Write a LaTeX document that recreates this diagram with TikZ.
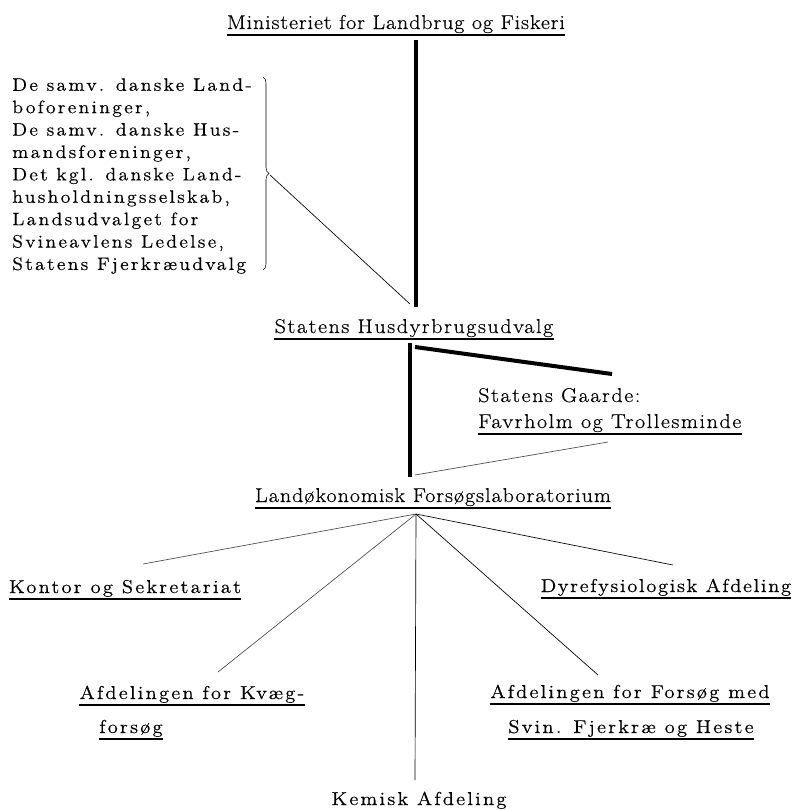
\documentclass[tikz,border=0pt]{standalone}
\usepackage{fontspec}
\setmainfont{Latin Modern Roman}
\usetikzlibrary{decorations.pathreplacing,calc}
\tikzset{%
  unit/.style      = {inner sep=0pt, anchor=base,%
                      font=\fontsize{15}{18}\selectfont%
                      \addfontfeatures{LetterSpace=#1,FakeStretch=1.1,FakeBold=0.5}},%
  unit/.default    = 6,%
  member/.style    = {inner sep=0pt, anchor=north west, align=left,%
                      font=\fontsize{13.5}{16.8}\selectfont%
                      \addfontfeatures{LetterSpace=12.5,FakeStretch=1.1,FakeBold=0.5}},%
  dept/.style      = {inner sep=0pt, anchor=base,%
                      font=\fontsize{14}{18}\selectfont%
                      \addfontfeatures{LetterSpace=#1,FakeStretch=1.1,FakeBold=0.5}},%
  dept/.default    = 12,%
  uline/.style     = {line width=1.4pt},%
  mainline/.style  = {line width=3pt},%
  thinline/.style  = {line width=0.5pt},%
  faintline/.style = {line width=0.5pt, black!70}%
}
\newcommand{\underlinenode}[1]{%
  \draw[uline] ([yshift=-4.5pt]#1.base west) -- ([yshift=-4.5pt]#1.base east)}

\begin{document}
\begin{tikzpicture}[x=0.75pt,y=-0.75pt]
	\useasboundingbox (0,0) rectangle (795,810);
	% top of the hierarchy
	\node[unit=4.5] (min) at (396,29) {Ministeriet for Landbrug og Fiskeri};
	\underlinenode{min};
	\node[member] (members) at (12,78) {De samv. danske Land-\\boforeninger,\\%
		De samv. danske Hus-\\mandsforeninger,\\Det kgl. danske Land-\\%
		husholdningsselskab,\\Landsudvalget for\\Svineavlens Ledelse,\\%
		Statens Fjerkræudvalg};
	\coordinate (braceTop) at (263,77);
	\coordinate (braceBot) at (263,270);
	\coordinate (braceTip) at (270,175);
	\draw[decorate,decoration={brace,amplitude=4.5pt}] (braceTop) -- (braceBot);
	% middle
	\node[unit=8] (hus) at (414,333) {Statens Husdyrbrugsudvalg};
	\underlinenode{hus};
	\node[unit=8,anchor=base west] (gaardeA) at (478,402) {Statens Gaarde:};
	\node[unit=8,anchor=base west] (gaardeB) at (478,428) {Favrholm og Trollesminde};
	\underlinenode{gaardeB};
	\node[unit=5] (lab) at (433,502) {Landøkonomisk Forsøgslaboratorium};
	\underlinenode{lab};
	% departments
	\node[dept] (kontor) at (125,593) {Kontor og Sekretariat};
	\underlinenode{kontor};
	\node[dept=9] (dyre) at (666,592) {Dyrefysiologisk Afdeling};
	\underlinenode{dyre};
	\node[dept] (kvaegA) at (192,699) {Afdelingen for Kvæg-};
	\underlinenode{kvaegA};
	\node[dept] (kvaegB) at (131,733) {forsøg};
	\underlinenode{kvaegB};
	\node[dept] (forsA) at (630,698) {Afdelingen for Forsøg med};
	\underlinenode{forsA};
	\node[dept] (forsB) at (631,733) {Svin. Fjerkræ og Heste};
	\underlinenode{forsB};
	\node[dept] (kemi) at (419,805) {Kemisk Afdeling};
	% connectors
	\coordinate (minFoot) at (416,40);
	\coordinate (husHead) at (416,307);
	\coordinate (husFoot) at (410,343);
	\coordinate (labHead) at (410,477);
	\coordinate (gaardeHead) at (612,374);
	\coordinate (gaardeFoot) at (608,442);
	\coordinate (hub) at (416,514);
	\draw[mainline] (minFoot) -- (husHead);
	\draw[thinline] (braceTip) -- (410,304);
	\draw[mainline] (husFoot) -- (labHead);
	\draw[mainline] (415,347) -- (gaardeHead);
	\draw[faintline] (gaardeFoot) -- (415,475);
	\draw[faintline] (hub) -- (143,564);
	\draw[faintline] (hub) -- (218,672);
	\draw[thinline] (hub) -- (415,780);
	\draw[thinline] (hub) -- (598,675);
	\draw[thinline] (hub) -- (673,565);
\end{tikzpicture}
\end{document}
